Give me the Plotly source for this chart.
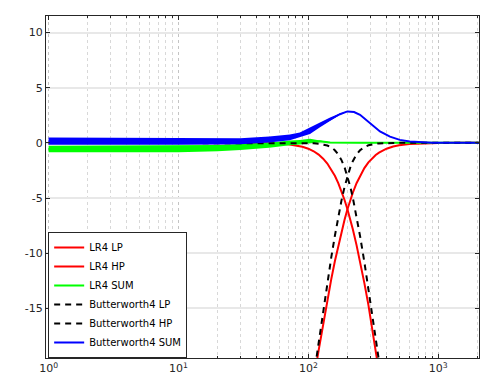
import plotly.graph_objects as go

# ---- data ----
freq_filters = [1, 10, 30, 50, 70, 90, 100, 110, 120, 130, 140, 150, 160, 170, 180, 190, 200,
                210, 220, 235, 250, 270, 290, 310, 330, 350, 370, 400, 450, 500, 600, 800,
                1000, 1500, 2050]
lr4_lp = [0, 0, 0, -0.03, -0.13, -0.35, -0.53, -0.76, -1.06, -1.43, -1.87, -2.39, -2.98, -3.65,
          -4.38, -5.18, -6.02, -6.91, -7.83, -9.27, -10.73, -12.71, -14.68, -16.61, -18.50,
          -20.32, -22.08, -24.6, -28.5, -32.1, -38.3, -48.2, -55.9, -70.0, -80.9]
lr4_hp = [-184.1, -104.1, -65.9, -48.2, -36.6, -28.1, -24.6, -21.53, -18.81, -16.39, -14.26,
          -12.38, -10.73, -9.30, -8.04, -6.96, -6.02, -5.21, -4.52, -3.66, -2.98, -2.29, -1.77,
          -1.39, -1.10, -0.88, -0.71, -0.53, -0.33, -0.22, -0.11, -0.03, -0.01, 0, 0]
bw4_lp = [0, 0, 0, 0, 0, -0.01, -0.02, -0.04, -0.07, -0.14, -0.24, -0.41, -0.67, -1.05, -1.56,
          -2.21, -3.01, -3.94, -4.97, -6.66, -8.43, -10.80, -13.13, -15.36, -17.48, -19.49,
          -21.40, -24.1, -28.2, -31.8, -38.2, -48.2, -55.9, -70.0, -80.9]
bw4_hp = [-184.1, -104.1, -65.9, -48.2, -36.5, -27.75, -24.1, -20.81, -17.82, -15.10, -12.64,
          -10.41, -8.43, -6.69, -5.21, -3.99, -3.01, -2.25, -1.66, -1.06, -0.67, -0.38, -0.22,
          -0.13, -0.08, -0.05, -0.03, -0.02, -0.01, 0, 0, 0, 0, 0, 0]

freq_sum = [1, 10, 20, 30, 50, 72, 86, 103, 123, 147, 175, 200, 225, 250, 298, 356, 425, 506,
            604, 720, 900, 1200, 2050]
lr4_sum = [-0.55, -0.55, -0.48, -0.38, -0.2, 0.0, 0.05, 0.15, 0.15, 0.04, 0.01, 0, 0, 0, 0, 0,
           0, 0, 0, 0, 0, 0, 0]
lr4_sum_spread = [0.3, 0.3, 0.28, 0.27, 0.24, 0.22, 0.2, 0.22, 0.08, 0.02, 0, 0, 0, 0, 0, 0,
                  0, 0, 0, 0, 0, 0, 0]
bw4_sum = [0.15, 0.15, 0.15, 0.15, 0.3, 0.5, 0.73, 1.1, 1.64, 2.16, 2.6, 2.85, 2.8, 2.55, 1.8,
           1.03, 0.57, 0.27, 0.12, 0.05, 0.01, 0, 0]
bw4_sum_spread = [0.33, 0.33, 0.3, 0.28, 0.27, 0.27, 0.22, 0.3, 0.22, 0.14, 0.06, 0.02, 0, 0,
                  0, 0, 0, 0, 0, 0, 0, 0, 0]

x_tickvals = [1, 10, 100, 1000]
x_ticktext = ["10<sup>0</sup>", "10<sup>1</sup>", "10<sup>2</sup>", "10<sup>3</sup>"]
y_tickvals = [-15, -10, -5, 0, 5, 10]
y_ticktext = ["-15", "-10", "-5", "0", "5", "10"]

RED = "#ff0000"
GREEN = "#00ff00"
BLUE = "#0000ff"
BLACK = "#000000"


def band(freq, center, spread, color, group):
    upper = [c + s for c, s in zip(center, spread)]
    lower = [c - s for c, s in zip(center, spread)]
    return go.Scatter(x=list(freq) + list(freq)[::-1], y=upper + lower[::-1],
                      fill="toself", fillcolor=color, line=dict(width=0, color=color),
                      mode="lines", showlegend=False, legendgroup=group, hoverinfo="skip")


fig = go.Figure()
fig.add_trace(go.Scatter(x=freq_filters, y=lr4_lp, mode="lines", name="LR4 LP",
                         line=dict(color=RED, width=2)))
fig.add_trace(go.Scatter(x=freq_filters, y=lr4_hp, mode="lines", name="LR4 HP",
                         line=dict(color=RED, width=2)))
fig.add_trace(band(freq_sum, lr4_sum, lr4_sum_spread, GREEN, "lr4sum"))
fig.add_trace(go.Scatter(x=freq_sum, y=lr4_sum, mode="lines", name="LR4 SUM",
                         legendgroup="lr4sum", line=dict(color=GREEN, width=2)))
fig.add_trace(go.Scatter(x=freq_filters, y=bw4_lp, mode="lines", name="Butterworth4 LP",
                         line=dict(color=BLACK, width=2, dash="6px,5px")))
fig.add_trace(go.Scatter(x=freq_filters, y=bw4_hp, mode="lines", name="Butterworth4 HP",
                         line=dict(color=BLACK, width=2, dash="6px,5px")))
fig.add_trace(band(freq_sum, bw4_sum, bw4_sum_spread, BLUE, "bwsum"))
fig.add_trace(go.Scatter(x=freq_sum, y=bw4_sum, mode="lines", name="Butterworth4 SUM",
                         legendgroup="bwsum", line=dict(color=BLUE, width=2)))

minor_vals = [m * 10 ** d for d in range(0, 4) for m in range(2, 10)]

# the page body adds an 8px offset, compensated in the margins
fig.update_layout(
    width=494, height=390,
    margin=dict(l=38, r=23, t=8, b=40, autoexpand=False),
    paper_bgcolor="white", plot_bgcolor="white",
    font=dict(family="DejaVu Sans", size=10, color="#262626"),
    showlegend=True,
    legend=dict(x=0.005, y=0.0, xanchor="left", yanchor="bottom",
                bgcolor="white", bordercolor="#262626", borderwidth=1,
                font=dict(size=10, color="#000000"), tracegroupgap=0,
                itemwidth=30),
    xaxis=dict(type="log", range=[-0.02, 3.314], automargin=False,
               tickmode="array", tickvals=x_tickvals, ticktext=x_ticktext,
               ticks="inside", ticklen=4, tickcolor="#262626",
               showline=True, linecolor="#262626", linewidth=1, mirror="allticks",
               showgrid=True, gridcolor="#c4c4c4", griddash="dot", gridwidth=1,
               zeroline=False,
               minor=dict(tickmode="array", tickvals=minor_vals, ticks="inside", ticklen=2,
                          tickcolor="#262626", showgrid=True, gridcolor="#d8d8d8",
                          griddash="dot", gridwidth=1),
               tickfont=dict(size=11)),
    yaxis=dict(range=[-19.5, 11.5], tickmode="array", tickvals=y_tickvals,
               ticktext=y_ticktext, automargin=False,
               ticks="inside", ticklen=4, tickcolor="#262626",
               showline=True, linecolor="#262626", linewidth=1, mirror="allticks",
               showgrid=True, gridcolor="#e8e8e8", gridwidth=1.5,
               zeroline=False, tickfont=dict(size=11)),
)

fig.write_html("out.html")
